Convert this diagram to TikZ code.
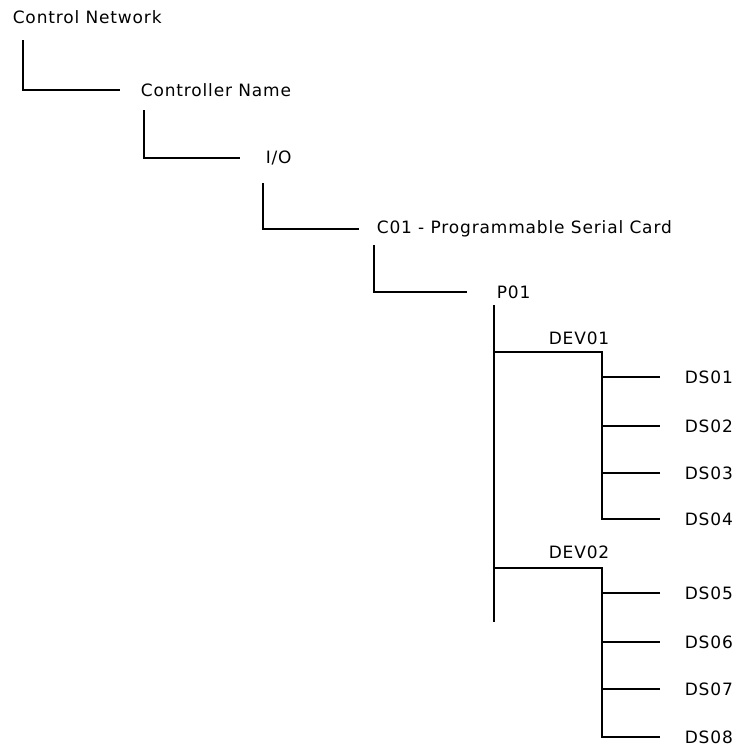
\documentclass[tikz,border=0pt]{standalone}
\usepackage{fontspec}
\setmainfont{DejaVu Sans}[LetterSpace=5]
\usetikzlibrary{positioning,calc}

\begin{document}
\begin{tikzpicture}[
  x=1pt, y=-1pt, line width=1.6pt,
  font=\fontsize{17}{20}\selectfont,
  lbl/.style={anchor=west, inner sep=0pt}
]
\useasboundingbox (0,0) rectangle (746,747);

\node[lbl] (net) at (12,17) {Control Network};
\node[lbl] (ctrl) at (140,90) {Controller Name};
\node[lbl] (io) at (265,158) {I/O};
\node[lbl] (card) at (376,229) {C01 - Programmable Serial Card};
\node[lbl] (port) at (496,292) {P01};
\node[lbl] (dev1) at (548,338) {DEV01};
\node[lbl] (dev2) at (548,552) {DEV02};
\foreach \i/\y in {1/377,2/426,3/473,4/519,5/593,6/642,7/689,8/737} {
  \node[lbl] (ds\i) at (684,\y) {DS0\i};
}

% elbows down the tree
\draw ($(net.west)+(11,23)$) |- ([xshift=-20pt]ctrl.west);
\draw ($(ctrl.west)+(4,20)$) |- ([xshift=-25pt]io.west);
\draw ($(io.west)+(-2,25)$) |- ([xshift=-17pt]card.west);
\draw ($(card.west)+(-2,16)$) |- ([xshift=-29pt]port.west);

% port bus and devices
\coordinate (bus) at ($(port.west)+(-2,13)$);
\coordinate (busend) at (494,622);
\coordinate (k1) at (602,352);
\coordinate (k2) at (602,568);
\draw (bus) -- (busend);

\draw (bus |- k1) -- (k1) |- ([xshift=-24pt]ds4.west);
\foreach \i in {1,2,3} {
  \draw (k1 |- ds\i.west) -- ([xshift=-24pt]ds\i.west);
}
\draw (bus |- k2) -- (k2) |- ([xshift=-24pt]ds8.west);
\foreach \i in {5,6,7} {
  \draw (k2 |- ds\i.west) -- ([xshift=-24pt]ds\i.west);
}
\end{tikzpicture}
\end{document}
